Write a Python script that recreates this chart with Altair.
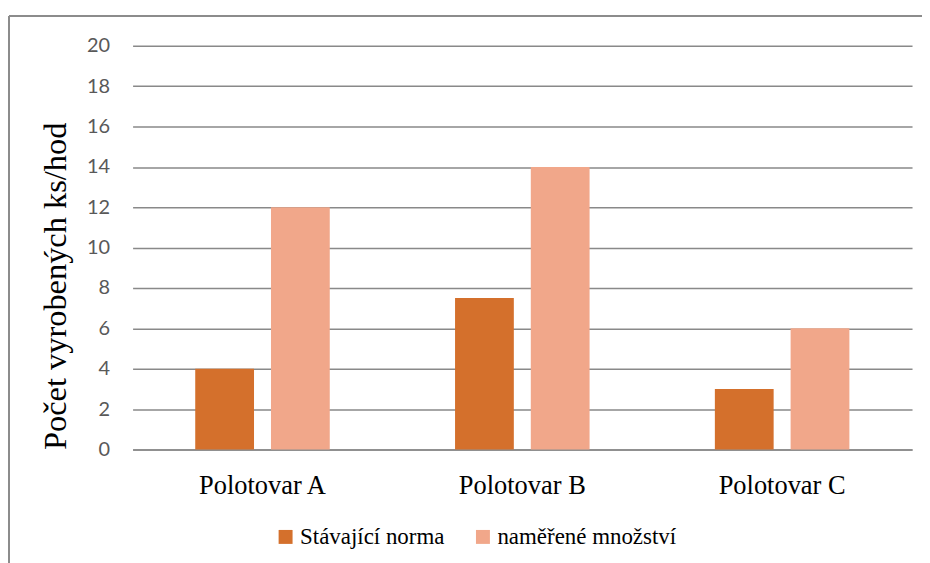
import altair as alt
import pandas as pd

categories = ["Polotovar A", "Polotovar B", "Polotovar C"]
series = ["Stávající norma", "naměřené množství"]
norma = [4, 7.5, 3]
namereno = [12, 14, 6]
colors = ["#D4702C", "#F1A78A"]

rows = []
for c, a, b in zip(categories, norma, namereno):
    rows.append({"cat": c, "ser": series[0], "val": a})
    rows.append({"cat": c, "ser": series[1], "val": b})
df = pd.DataFrame(rows)

W, H = 782, 405
PL, PT = 125, 37
SERIF = "Liberation Serif, Times New Roman, serif"

bars = alt.Chart(df).mark_bar().encode(
    x=alt.X("cat:N", sort=categories, title=None,
            scale=alt.Scale(paddingInner=0, paddingOuter=0),
            axis=alt.Axis(labelAngle=0, labelFont=SERIF, labelFontSize=26.5,
                          labelColor="#000000", labelPadding=23, ticks=False,
                          domain=True, domainColor="#898989", domainWidth=1.5, grid=False)),
    xOffset=alt.XOffset("ser:N", sort=series,
                        scale=alt.Scale(paddingInner=0.224, paddingOuter=0.827)),
    y=alt.Y("val:Q", title="Počet vyrobených ks/hod",
            scale=alt.Scale(domain=[0, 20], nice=False),
            axis=alt.Axis(values=list(range(0, 21, 2)), labelFont="Lato", labelFontSize=20,
                          labelColor="#595959", labelPadding=23, ticks=False, domain=False,
                          gridColor="#898989", gridWidth=1.5,
                          titleFont=SERIF, titleFontSize=32.5, titleFontWeight="normal",
                          titleColor="#000000", titleAnchor="start", titlePadding=14)),
    color=alt.Color("ser:N", sort=series, title=None,
                    scale=alt.Scale(domain=series, range=colors),
                    legend=alt.Legend(orient="none", direction="horizontal",
                                      legendX=142, legendY=481,
                                      symbolType="square", symbolSize=196, symbolStrokeWidth=0,
                                      labelFont=SERIF, labelFontSize=23,
                                      labelColor="#000000", columnPadding=27, labelOffset=3,
                                      labelLimit=400)),
)

frame_left = alt.Chart(pd.DataFrame({"a": [0]})).mark_rule(color="#8c8c8c", strokeWidth=2).encode(
    x=alt.value(1 - PL), y=alt.value(7 - PT), y2=alt.value(H + 120))
frame_top = alt.Chart(pd.DataFrame({"a": [0]})).mark_rule(color="#8c8c8c", strokeWidth=2).encode(
    x=alt.value(1 - PL), x2=alt.value(W + 30), y=alt.value(7 - PT))

chart = alt.layer(bars, frame_left, frame_top).properties(
    width=W, height=H,
    autosize=alt.AutoSizeParams(type="none"),
    padding={"left": PL, "top": PT, "right": 10, "bottom": 113},
).configure(background="white", font=SERIF).configure_view(stroke=None).configure_legend(
    labelFont=SERIF, labelFontSize=23, labelColor="#000000")

chart.save("out.html", embed_options={"renderer": "svg", "actions": False})
